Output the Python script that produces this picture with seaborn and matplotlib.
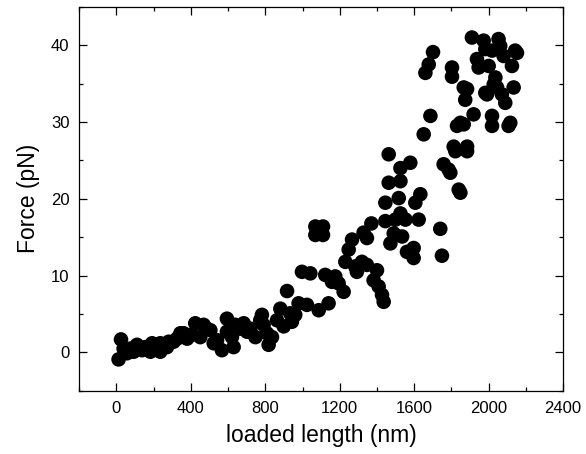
import numpy as np
import pandas as pd
import matplotlib
matplotlib.use("Agg")
import matplotlib.pyplot as plt
import seaborn as sns
from matplotlib.ticker import MultipleLocator

# loaded length (nm) and force (pN)
comprimento = [12, 25, 57, 111, 93, 138, 183, 192, 236, 236, 272, 308, 344, 380, 424,
               451, 469, 505, 523, 567, 594, 594, 630, 639, 684, 702, 747, 782, 791, 818,
               836, 881, 899, 917, 943, 979, 1024, 997, 1042, 1087, 1069, 1069, 1110, 1110,
               1122, 1140, 1176, 1194, 1221, 1230, 1248, 1266, 1283, 1292, 1319, 1346, 1346,
               1370, 1382, 1400, 1409, 1427, 1436, 1463, 1463, 1445, 1445, 1472, 1490, 1499,
               1517, 1526, 1526, 1526, 1535, 1553, 1561, 1579, 1597, 1597, 1606, 1624, 1633,
               1651, 1660, 1678, 1687, 1701, 1740, 1749, 1758, 1785, 1794, 1803, 1803, 1812,
               1821, 1839, 1848, 1830, 1848, 1866, 1884, 1884, 1866, 1874, 1884, 1910, 1919,
               1946, 1937, 1973, 1982, 2000, 1982, 1991, 2018, 2018, 2018, 2036, 2045, 2027,
               2053, 2062, 2080, 2071, 2089, 2107, 2116, 2125, 2134, 2142, 2152,
               39, 75, 156, 210, 281, 326, 362, 406, 487, 541, 621, 666, 720, 773, 809,
               863, 934, 961, 1158, 1328]
forca = [-0.9, 1.7, -0.1, 1.0, 0.1, 0.3, 0.1, 1.2, 0.1, 1.2, 0.7, 1.4, 2.5, 1.8, 3.8,
         2.0, 3.6, 2.9, 1.2, 0.3, 4.4, 2.7, 0.7, 3.6, 3.8, 2.7, 2.0, 4.9, 3.6, 1.0,
         2.0, 5.7, 3.4, 8.0, 4.0, 6.4, 6.2, 10.5, 10.3, 5.5, 16.4, 15.3, 16.4, 15.3,
         10.1, 6.4, 9.9, 9.0, 7.9, 11.8, 13.4, 14.7, 11.2, 10.5, 11.8, 11.4, 14.9,
         16.8, 9.4, 10.7, 8.6, 7.5, 6.6, 25.8, 22.1, 19.5, 17.1, 14.2, 15.5, 17.3,
         20.1, 22.3, 24.0, 18.1, 15.1, 17.3, 13.1, 24.7, 13.6, 12.3, 19.5, 17.3, 20.6,
         28.4, 36.4, 37.5, 30.8, 39.1, 16.1, 12.6, 24.5, 23.8, 23.4, 37.1, 35.9, 26.8,
         26.2, 21.2, 20.8, 29.5, 29.9, 29.7, 26.8, 26.2, 34.5, 32.9, 34.3, 41.0, 31.0,
         37.1, 38.2, 40.6, 39.5, 37.3, 33.8, 33.6, 30.8, 29.5, 39.3, 35.8, 34.5, 34.9,
         40.8, 39.9, 38.6, 33.6, 32.5, 29.5, 29.9, 37.3, 34.5, 39.3, 39.0,
         0.5, 0.5, 0.7, 0.5, 1.4, 1.8, 2.5, 2.3, 3.1, 1.6, 2.0, 3.1, 3.1, 4.2, 2.5,
         4.2, 5.1, 4.9, 9.2, 15.6]

df = pd.DataFrame({"comprimento": comprimento, "forca": forca})

sns.set_style("ticks")
plt.rcParams["font.family"] = ["Liberation Sans", "DejaVu Sans"]
plt.rcParams["text.color"] = "black"
plt.rcParams["axes.labelcolor"] = "black"
plt.rcParams["xtick.color"] = "black"
plt.rcParams["ytick.color"] = "black"

fig = plt.figure(figsize=(5.86, 4.54), dpi=100)
ax = fig.add_axes([0.135, 0.139, 0.826, 0.846])

sns.scatterplot(data=df, x="comprimento", y="forca", ax=ax, color="black",
                s=110, edgecolor="none", linewidth=0)

ax.set_xlim(-200, 2400)
ax.set_ylim(-5, 45)
ax.xaxis.set_major_locator(MultipleLocator(400))
ax.xaxis.set_minor_locator(MultipleLocator(200))
ax.yaxis.set_major_locator(MultipleLocator(10))
ax.yaxis.set_minor_locator(MultipleLocator(5))
ax.tick_params(which="both", direction="in", top=True, right=True,
               labelsize=12, width=0.9, color="black", labelcolor="black")
ax.tick_params(which="major", length=5.5, pad=7)
ax.tick_params(which="minor", length=3)
for sp in ax.spines.values():
    sp.set_visible(True)
    sp.set_linewidth(0.9)
    sp.set_color("black")

ax.set_xlabel("loaded length (nm)", fontsize=16.5, labelpad=6)
ax.set_ylabel("Force (pN)", fontsize=16.5, labelpad=8)

fig.savefig("out.png", dpi=100)
